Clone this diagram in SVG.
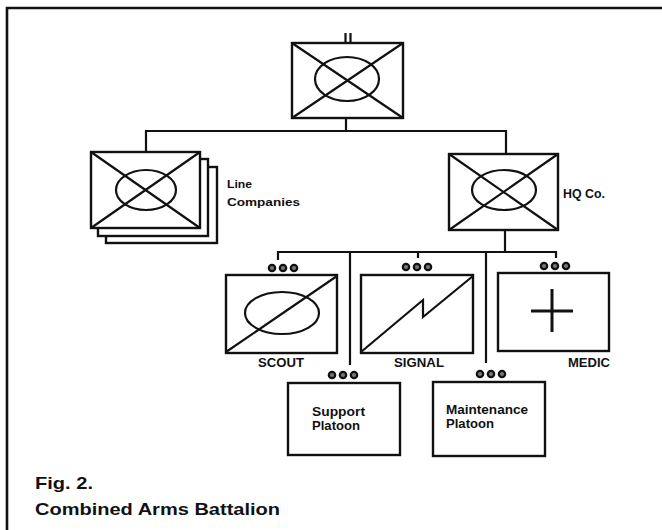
<svg xmlns="http://www.w3.org/2000/svg" width="662" height="530" viewBox="0 0 662 530">
<style>
.b{fill:#fff;stroke:#111;stroke-width:2.4}
.l{fill:none;stroke:#111;stroke-width:2.2}
.d{fill:#777;stroke:#111;stroke-width:2.2}
.t{font-family:"Liberation Sans",Arial,sans-serif;font-weight:bold;fill:#111}
</style>
<defs>
<g id="dots"><circle class="d" cx="-11" cy="0" r="3.2"/><circle class="d" cx="0" cy="0" r="3.2"/><circle class="d" cx="11" cy="0" r="3.2"/></g>
</defs>
<rect width="662" height="530" fill="#fff"/>
<path d="M7 530 V8 H662" fill="none" stroke="#111" stroke-width="2.6"/>
<g id="connectors" class="l">
<path d="M346 118 V131 M146 152 V131 H506 V154"/>
<path d="M505 230 V252 M278 260 V252 H556 V258 M418 252 V258 M350 252 V365 M486 252 V363"/>
<path d="M345.5 33 V42 M350.5 33 V42"/>
</g>
<g id="battalion">
<rect class="b" x="292" y="43" width="111" height="75"/>
<path class="l" d="M292 43 L403 118 M403 43 L292 118"/>
<ellipse class="l" cx="347" cy="79" rx="32" ry="22"/>
</g>
<g id="line-companies">
<rect class="b" x="106" y="167" width="111" height="76"/>
<rect class="b" x="98" y="159" width="110" height="77"/>
<rect class="b" x="91" y="152" width="109" height="76"/>
<path class="l" d="M91 152 L200 228 M200 152 L91 228"/>
<ellipse class="l" cx="146" cy="190" rx="30" ry="20"/>
<text class="t" font-size="11.5" x="227" y="188" textLength="25" lengthAdjust="spacingAndGlyphs">Line</text>
<text class="t" font-size="11.5" x="227" y="206" textLength="73" lengthAdjust="spacingAndGlyphs">Companies</text>
</g>
<g id="hq-co">
<rect class="b" x="449" y="154" width="109" height="76"/>
<path class="l" d="M449 154 L558 230 M558 154 L449 230"/>
<ellipse class="l" cx="504" cy="190" rx="32" ry="20"/>
<text class="t" font-size="12" x="563" y="198" textLength="42" lengthAdjust="spacingAndGlyphs">HQ Co.</text>
</g>
<g id="scout">
<use href="#dots" x="283" y="268"/>
<rect class="b" x="226" y="275" width="111" height="78"/>
<ellipse class="l" cx="282" cy="313" rx="37" ry="21"/>
<path class="l" d="M226 352 L337 276"/>
<text class="t" font-size="13" x="281" y="367" text-anchor="middle" textLength="46" lengthAdjust="spacingAndGlyphs">SCOUT</text>
</g>
<g id="signal">
<use href="#dots" x="417" y="267"/>
<rect class="b" x="361" y="275" width="112" height="78"/>
<path class="l" d="M361 352 L423 300 L423 317 L473 276"/>
<text class="t" font-size="13" x="419" y="367" text-anchor="middle" textLength="50" lengthAdjust="spacingAndGlyphs">SIGNAL</text>
</g>
<g id="medic">
<use href="#dots" x="555" y="266"/>
<rect class="b" x="498" y="273" width="111" height="78"/>
<path d="M531 311 H573 M552 289 V332" fill="none" stroke="#111" stroke-width="3"/>
<text class="t" font-size="13" x="589" y="367" text-anchor="middle" textLength="42" lengthAdjust="spacingAndGlyphs">MEDIC</text>
</g>
<g id="support-platoon">
<use href="#dots" x="343" y="375"/>
<rect class="b" x="288" y="383" width="112" height="72"/>
<text class="t" font-size="12" x="312" y="416" textLength="53" lengthAdjust="spacingAndGlyphs">Support</text>
<text class="t" font-size="12" x="312" y="430" textLength="48" lengthAdjust="spacingAndGlyphs">Platoon</text>
</g>
<g id="maintenance-platoon">
<use href="#dots" x="491" y="374"/>
<rect class="b" x="433" y="382" width="112" height="74"/>
<text class="t" font-size="12" x="446" y="414" textLength="82" lengthAdjust="spacingAndGlyphs">Maintenance</text>
<text class="t" font-size="12" x="446" y="428" textLength="48" lengthAdjust="spacingAndGlyphs">Platoon</text>
</g>
<g id="caption">
<text class="t" font-size="17" x="35" y="489" textLength="58" lengthAdjust="spacingAndGlyphs">Fig. 2.</text>
<text class="t" font-size="17" x="35" y="515" textLength="245" lengthAdjust="spacingAndGlyphs">Combined Arms Battalion</text>
</g>
</svg>
